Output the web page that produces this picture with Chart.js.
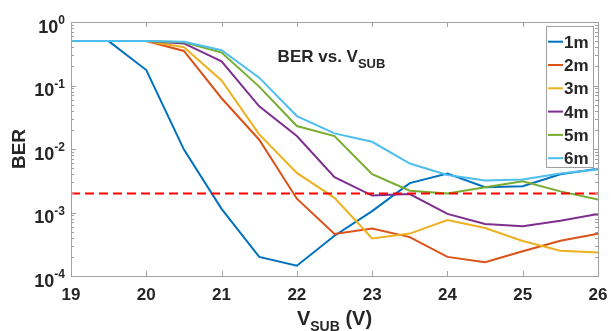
<!DOCTYPE html>
<html>
<head>
<meta charset="utf-8">
<script src="https://cdn.jsdelivr.net/npm/chart.js@4/dist/chart.umd.min.js"></script>
<style>
  body { margin: 0; background: #fff; }
  canvas { display: block; }
</style>
</head>
<body>
<canvas id="mycanvas" width="611" height="331"></canvas>
<script>
// data
var vsub = [19, 19.5, 20, 20.5, 21, 21.5, 22, 22.5, 23, 23.5, 24, 24.5, 25, 25.5, 26];
var ber1m = [0.5, 0.5, 0.175, 0.0098, 1.14e-3, 2.0e-4, 1.45e-4, 4.3e-4, 1.05e-3, 2.9e-3, 4.1e-3, 2.5e-3, 2.6e-3, 4.0e-3, 4.9e-3];
var ber2m = [0.5, 0.5, 0.5, 0.35, 0.063, 0.014, 1.65e-3, 4.6e-4, 5.6e-4, 4.1e-4, 2.0e-4, 1.65e-4, 2.45e-4, 3.6e-4, 4.65e-4];
var ber3m = [0.5, 0.5, 0.5, 0.40, 0.12, 0.017, 4.2e-3, 1.7e-3, 3.9e-4, 4.65e-4, 7.6e-4, 5.7e-4, 3.55e-4, 2.5e-4, 2.35e-4];
var ber4m = [0.5, 0.5, 0.5, 0.46, 0.24, 0.047, 0.016, 3.6e-3, 1.85e-3, 1.95e-3, 9.5e-4, 6.6e-4, 6.1e-4, 7.4e-4, 9.5e-4];
var ber5m = [0.5, 0.5, 0.5, 0.48, 0.33, 0.096, 0.023, 0.016, 4.0e-3, 2.2e-3, 2.0e-3, 2.5e-3, 3.1e-3, 2.15e-3, 1.6e-3];
var ber6m = [0.5, 0.5, 0.5, 0.49, 0.36, 0.133, 0.033, 0.0176, 0.013, 5.9e-3, 3.9e-3, 3.2e-3, 3.3e-3, 4.1e-3, 4.75e-3];
var threshold = 2e-3;

var labels = ['1m', '2m', '3m', '4m', '5m', '6m'];
var series = [ber1m, ber2m, ber3m, ber4m, ber5m, ber6m];
var colors = ['#0072BD', '#D95319', '#EDB120', '#7E2F8E', '#77AC30', '#4DBEEE'];

var xTicks = [19, 20, 21, 22, 23, 24, 25, 26];
var yTickExps = [0, -1, -2, -3, -4];

function toPoints(ys) {
	var pts = [];
	for (var i in vsub) {
		pts.push({x: vsub[i], y: ys[i]});
	}
	return pts;
}

var datasets = [];
for (var s = 0; s < series.length; s++) {
	datasets.push({
		label: labels[s],
		data: toPoints(series[s]),
		borderColor: colors[s],
		backgroundColor: colors[s],
		borderWidth: 2,
		pointRadius: 0,
		tension: 0,
		order: series.length - s
	});
}
datasets.push({
	label: 'threshold',
	data: [{x: vsub[0], y: threshold}, {x: vsub[vsub.length - 1], y: threshold}],
	borderColor: '#FF0000',
	borderWidth: 2,
	borderDash: [9, 5],
	pointRadius: 0,
	order: 0
});

var TEXT = '#262626';
var AXIS = '#a0a0a0';
var FONT = '"Liberation Sans", Arial, sans-serif';

// MATLAB style box, inward ticks, labels, title and legend
var matlabAxes = {
	id: 'matlabAxes',
	afterDatasetsDraw: function(chart) {
		var ctx = chart.ctx;
		var a = chart.chartArea;
		var xs = chart.scales.x, ys = chart.scales.y;
		ctx.save();

		// box
		ctx.strokeStyle = AXIS;
		ctx.lineWidth = 1;
		ctx.strokeRect(a.left + 0.5, a.top + 0.5, a.right - a.left, a.bottom - a.top);

		// x ticks (top and bottom, inward)
		ctx.beginPath();
		xTicks.forEach(function(v) {
			var px = Math.round(xs.getPixelForValue(v)) + 0.5;
			ctx.moveTo(px, a.bottom); ctx.lineTo(px, a.bottom - 5);
			ctx.moveTo(px, a.top); ctx.lineTo(px, a.top + 5);
		});
		// y ticks, major and minor
		yTickExps.forEach(function(e) {
			var py = Math.round(ys.getPixelForValue(Math.pow(10, e))) + 0.5;
			ctx.moveTo(a.left, py); ctx.lineTo(a.left + 5, py);
			ctx.moveTo(a.right, py); ctx.lineTo(a.right - 5, py);
			if (e < 0) {
				for (var k = 2; k <= 9; k++) {
					var my = Math.round(ys.getPixelForValue(k * Math.pow(10, e))) + 0.5;
					ctx.moveTo(a.left, my); ctx.lineTo(a.left + 3, my);
					ctx.moveTo(a.right, my); ctx.lineTo(a.right - 3, my);
				}
			}
		});
		ctx.stroke();

		ctx.fillStyle = TEXT;
		// x tick labels
		ctx.font = 'bold 17px ' + FONT;
		ctx.textAlign = 'center';
		ctx.textBaseline = 'alphabetic';
		xTicks.forEach(function(v) {
			ctx.fillText(String(v), xs.getPixelForValue(v), a.bottom + 24);
		});

		// y tick labels 10^e
		yTickExps.forEach(function(e) {
			var py = ys.getPixelForValue(Math.pow(10, e));
			var sup = String(e);
			ctx.font = 'bold 12px ' + FONT;
			ctx.textAlign = 'right';
			ctx.fillText(sup, a.left - 6, py + 2);
			var sw = ctx.measureText(sup).width;
			ctx.font = 'bold 18px ' + FONT;
			ctx.fillText('10', a.left - 6 - sw, py + 10.5);
		});

		// y axis title
		ctx.save();
		ctx.translate(25, (a.top + a.bottom) / 2);
		ctx.rotate(-Math.PI / 2);
		ctx.textAlign = 'center';
		ctx.font = 'bold 19px ' + FONT;
		ctx.fillText('BER', 0, 0);
		ctx.restore();

		// x axis title: V_SUB (V)
		drawSub(ctx, 'V', 'SUB', ' (V)', (a.left + a.right) / 2, 325, 20, 14, 6);
		// title inside plot
		drawSub(ctx, 'BER vs. V', 'SUB', '', (a.left + a.right) / 2 - 3, 61.5, 17, 13, 6);

		// legend
		var lx = 546, ly = 26, lw = 47, lh = 141;
		ctx.fillStyle = '#ffffff';
		ctx.fillRect(lx, ly, lw, lh);
		ctx.strokeStyle = AXIS;
		ctx.strokeRect(lx + 0.5, ly + 0.5, lw, lh);
		ctx.font = 'bold 17px ' + FONT;
		ctx.textAlign = 'left';
		for (var i = 0; i < labels.length; i++) {
			var by = 47.7 + i * 23.3;
			ctx.strokeStyle = colors[i];
			ctx.lineWidth = 2;
			ctx.beginPath();
			ctx.moveTo(lx + 2, by - 6);
			ctx.lineTo(lx + 17, by - 6);
			ctx.stroke();
			ctx.fillStyle = TEXT;
			ctx.fillText(labels[i], lx + 18, by);
		}
		ctx.restore();
	}
};

// text with a subscript part, centred on cx
function drawSub(ctx, main, sub, tail, cx, baseline, size, subSize, drop) {
	ctx.save();
	ctx.textAlign = 'left';
	ctx.fillStyle = TEXT;
	ctx.font = 'bold ' + size + 'px ' + FONT;
	var w1 = ctx.measureText(main).width;
	var w3 = ctx.measureText(tail).width;
	ctx.font = 'bold ' + subSize + 'px ' + FONT;
	var w2 = ctx.measureText(sub).width;
	var x = cx - (w1 + w2 + w3) / 2;
	ctx.font = 'bold ' + size + 'px ' + FONT;
	ctx.fillText(main, x, baseline);
	ctx.font = 'bold ' + subSize + 'px ' + FONT;
	ctx.fillText(sub, x + w1, baseline + drop);
	ctx.font = 'bold ' + size + 'px ' + FONT;
	ctx.fillText(tail, x + w1 + w2, baseline);
	ctx.restore();
}

var ctx = document.getElementById('mycanvas');
var berChart = new Chart(ctx, {
	type: 'line',
	data: { datasets: datasets },
	options: {
		responsive: false,
		animation: false,
		devicePixelRatio: 1,
		layout: { padding: { left: 71, right: 13, top: 22, bottom: 55 } },
		scales: {
			x: { type: 'linear', min: 19, max: 26, display: false },
			y: { type: 'logarithmic', min: 1e-4, max: 1, display: false }
		},
		plugins: {
			legend: { display: false },
			title: { display: false },
			tooltip: { enabled: false }
		}
	},
	plugins: [matlabAxes]
});
</script>
</body>
</html>
